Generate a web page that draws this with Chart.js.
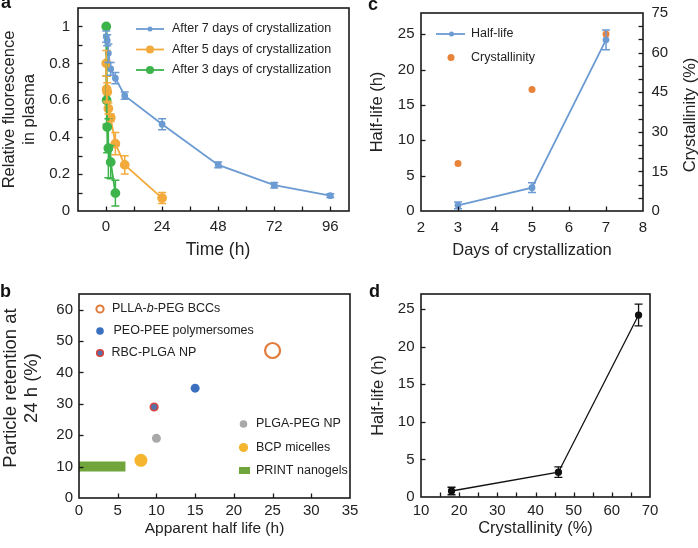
<!DOCTYPE html>
<html lang="en">
<head>
<meta charset="UTF-8">
<title>Crystallization and blood circulation</title>
<script src="https://cdn.jsdelivr.net/npm/chart.js"></script>
<style>
  body { margin: 0; background: #fff; font-family: "Liberation Sans", Arial, sans-serif; }
  #page { position: relative; width: 698px; height: 548px; overflow: hidden; background: #fff; }
  .panel { position: absolute; }
  .panel canvas { display: block; }
  .tag { position: absolute; font-weight: bold; font-size: 18px; line-height: 18px; color: #111; }
</style>
</head>
<body>
<div id="page">
  <div class="panel" style="left:0;top:0"><canvas id="chartA" width="355" height="270"></canvas></div>
  <div class="panel" style="left:355px;top:0"><canvas id="chartC" width="343" height="270"></canvas></div>
  <div class="panel" style="left:0;top:275px"><canvas id="chartB" width="365" height="273"></canvas></div>
  <div class="panel" style="left:360px;top:275px"><canvas id="chartD" width="338" height="273"></canvas></div>
  <div class="tag" style="left:1px;top:-7px">a</div>
  <div class="tag" style="left:368px;top:-5px">c</div>
  <div class="tag" style="left:0px;top:282px">b</div>
  <div class="tag" style="left:369px;top:282px">d</div>
</div>
<script>
// ---- panel a : relative fluorescence in plasma vs time ----
const seriesA = ['After 7 days of crystallization', 'After 5 days of crystallization', 'After 3 days of crystallization'];
const time7 = [0.083, 0.5, 1, 2, 4, 8, 24, 48, 72, 96];
const fluo7 = [0.945, 0.925, 0.855, 0.77, 0.72, 0.625, 0.47, 0.25, 0.14, 0.083];
const err7  = [0.03, 0.03, 0.05, 0.035, 0.03, 0.02, 0.03, 0.015, 0.015, 0.01];
const time5 = [0.083, 0.25, 0.5, 1, 2, 4, 8, 24];
const fluo5 = [0.8, 0.66, 0.645, 0.555, 0.505, 0.365, 0.25, 0.07];
const err5  = [0.07, 0.07, 0.05, 0.03, 0.02, 0.06, 0.05, 0.03];
const time3 = [0.083, 0.25, 0.5, 1, 2, 4];
const fluo3 = [1.0, 0.6, 0.455, 0.34, 0.265, 0.097];
const err3  = [0, 0.13, 0.14, 0.16, 0.09, 0.07];

// ---- panel b : particle retention vs apparent half life ----
const seriesB = ['PLLA-b-PEG BCCs', 'PEO-PEE polymersomes', 'RBC-PLGA NP', 'PLGA-PEG NP', 'BCP micelles', 'PRINT nanogels'];
const halfLifeB = [25, 15, 9.7, 10, 8];
const retentionB = [47, 35, 29, 19, 12];
const printRange = [0, 6];
const printRetention = 10;

// ---- panel c : half-life and crystallinity vs days ----
const seriesC = ['Half-life', 'Crystallinity'];
const days = [3, 5, 7];
const halfLife = [0.8, 3.3, 24.2];
const halfLifeErr = [0.47, 0.7, 1.4];
const crystallinity = [18, 46, 67];

// ---- panel d : half-life vs crystallinity ----
const crystD = [18, 46, 67];
const halfD = [0.8, 3.3, 24.2];
const errD = [0.5, 0.7, 1.45];

const FONT = '"Liberation Sans", Arial, sans-serif';
const INK = '#222';
Chart.defaults.font.family = FONT;
Chart.defaults.color = INK;
Chart.defaults.animation = false;

const BLUE = '#6b9bd2', ORANGE = '#f3aa3c', GREEN = '#3cb44b';

const pts = (xs, ys) => xs.map((x, i) => ({ x: x, y: ys[i] }));

// frame around the plot and short inward ticks
const frameTicks = {
  id: 'frameTicks',
  afterDraw(chart) {
    const { ctx, chartArea: a } = chart;
    ctx.save();
    ctx.strokeStyle = '#1a1a1a';
    ctx.lineWidth = 1.6;
    ctx.strokeRect(a.left, a.top, a.right - a.left, a.bottom - a.top);
    ctx.lineWidth = 1.3;
    const len = 4.5;
    Object.values(chart.scales).forEach(s => {
      s.ticks.forEach(t => {
        if (t.value <= s.min + 1e-9 || t.value >= s.max - 1e-9) return;
        const p = Math.round(s.getPixelForValue(t.value)) + 0.5;
        ctx.beginPath();
        if (s.position === 'bottom') { ctx.moveTo(p, a.bottom); ctx.lineTo(p, a.bottom - len); }
        else if (s.position === 'left') { ctx.moveTo(a.left, p); ctx.lineTo(a.left + len, p); }
        else { ctx.moveTo(a.right, p); ctx.lineTo(a.right - len, p); }
        ctx.stroke();
      });
    });
    ctx.restore();
  }
};

// vertical error bars from dataset.errors
const errorBars = {
  id: 'errorBars',
  afterDatasetsDraw(chart) {
    const ctx = chart.ctx;
    chart.data.datasets.forEach((ds, i) => {
      if (!ds.errors) return;
      const meta = chart.getDatasetMeta(i);
      const ys = chart.scales[meta.yAxisID];
      const cap = ds.capWidth || 4;
      ctx.save();
      ctx.strokeStyle = ds.borderColor;
      ctx.lineWidth = ds.errWidth || 1.5;
      meta.data.forEach((pt, j) => {
        const e = ds.errors[j];
        if (!e) return;
        const v = ds.data[j].y;
        const top = ys.getPixelForValue(v + e), bot = ys.getPixelForValue(v - e);
        ctx.beginPath();
        ctx.moveTo(pt.x, top); ctx.lineTo(pt.x, bot);
        ctx.moveTo(pt.x - cap, top); ctx.lineTo(pt.x + cap, top);
        ctx.moveTo(pt.x - cap, bot); ctx.lineTo(pt.x + cap, bot);
        ctx.stroke();
      });
      ctx.restore();
    });
  }
};

// hand-placed legend entries and a few axis titles
const markerLegend = {
  id: 'markerLegend',
  afterDraw(chart, args, opts) {
    const ctx = chart.ctx;
    ctx.save();
    (opts.items || []).forEach(it => {
      if (it.line) {
        ctx.strokeStyle = it.color; ctx.lineWidth = 1.8;
        ctx.beginPath(); ctx.moveTo(it.line[0], it.y); ctx.lineTo(it.line[1], it.y); ctx.stroke();
      }
      if (it.rect) {
        ctx.fillStyle = it.color;
        ctx.fillRect(it.x - it.rect[0] / 2, it.y - it.rect[1] / 2, it.rect[0], it.rect[1]);
      }
      if (it.r) {
        ctx.beginPath(); ctx.arc(it.x, it.y, it.r, 0, 2 * Math.PI);
        if (it.color) { ctx.fillStyle = it.color; ctx.fill(); }
        if (it.stroke) { ctx.strokeStyle = it.stroke; ctx.lineWidth = it.strokeWidth || 1.5; ctx.stroke(); }
      }
      let tx = it.textX;
      ctx.fillStyle = INK;
      ctx.textBaseline = 'middle';
      it.parts.forEach(p => {
        ctx.font = (p.italic ? 'italic ' : '') + '12.5px ' + FONT;
        ctx.fillText(p.t, tx, it.y);
        tx += ctx.measureText(p.t).width;
      });
    });
    (opts.titles || []).forEach(t => {
      ctx.save();
      ctx.translate(t.x, t.y);
      if (t.vertical) ctx.rotate(-Math.PI / 2);
      ctx.font = t.size + 'px ' + FONT;
      ctx.fillStyle = INK;
      ctx.textAlign = 'center';
      ctx.textBaseline = 'middle';
      ctx.fillText(t.text, 0, 0);
      ctx.restore();
    });
    ctx.restore();
  }
};

Chart.register(frameTicks, errorBars, markerLegend);

function linAxis(o) {
  return {
    type: 'linear',
    position: o.position,
    min: o.min, max: o.max,
    grid: { display: false, drawTicks: false },
    border: { display: false },
    afterFit: s => {
      if (s.isHorizontal()) s.height = o.size; else s.width = o.size;
      s.paddingTop = 0; s.paddingBottom = 0; s.paddingLeft = 0; s.paddingRight = 0;
    },
    ticks: {
      stepSize: o.step, autoSkip: false, maxRotation: 0, padding: o.pad,
      font: { size: 15 }, color: INK,
      includeBounds: false,
      callback: o.label
    },
    title: o.title ? {
      display: true, text: o.title, color: INK,
      font: { size: o.titleSize || 16.5, lineHeight: 1.2 },
      padding: o.titlePad
    } : { display: false }
  };
}

function baseOptions(padding, scales, legendItems, titles) {
  return {
    responsive: false,
    animation: false,
    layout: { padding: padding },
    plugins: {
      legend: { display: false },
      tooltip: { enabled: false },
      markerLegend: { items: legendItems, titles: titles || [] }
    },
    scales: scales
  };
}

// ---------- panel a ----------
new Chart(document.getElementById('chartA'), {
  type: 'scatter',
  data: {
    datasets: [
      { label: seriesA[2], data: pts(time3, fluo3), errors: err3, showLine: true, order: 0,
        borderColor: GREEN, backgroundColor: GREEN, borderWidth: 1.8, pointRadius: 4 },
      { label: seriesA[1], data: pts(time5, fluo5), errors: err5, showLine: true, order: 1,
        borderColor: ORANGE, backgroundColor: ORANGE, borderWidth: 1.8, pointRadius: 4 },
      { label: seriesA[0], data: pts(time7, fluo7), errors: err7, showLine: true, order: 2,
        borderColor: BLUE, backgroundColor: BLUE, borderWidth: 1.8, pointRadius: 2.5 }
    ]
  },
  options: baseOptions({ top: 8, right: 6, left: 0, bottom: 0 }, {
    x: linAxis({ position: 'bottom', min: -12, max: 104, step: 12, pad: 7, size: 59,
      label: v => (v >= 0 && v % 24 === 0) ? String(v) : '' }),
    y: linAxis({ position: 'left', min: 0, max: 1.1, step: 0.1, pad: 8, size: 78,
      label: v => { const k = Math.round(v * 10); return (k % 2 === 0 && k <= 10) ? String(k / 10) : ''; },
      title: ['Relative fluorescence', 'in plasma'], titlePad: { top: 0, bottom: 0 } })
  }, [
    { line: [136, 164], x: 150, y: 29, r: 2.5, color: BLUE, textX: 172, parts: [{ t: seriesA[0] }] },
    { line: [136, 164], x: 150, y: 49.5, r: 4, color: ORANGE, textX: 172, parts: [{ t: seriesA[1] }] },
    { line: [136, 164], x: 150, y: 70, r: 4, color: GREEN, textX: 172, parts: [{ t: seriesA[2] }] }
  ], [
    { text: 'Time (h)', x: 218, y: 250, size: 17.5 }
  ])
});

// ---------- panel c ----------
new Chart(document.getElementById('chartC'), {
  type: 'scatter',
  data: {
    datasets: [
      { label: seriesC[1], data: pts(days, crystallinity), yAxisID: 'y2', order: 0,
        borderColor: '#e8833a', backgroundColor: '#e8833a', pointRadius: 3.5, borderWidth: 0 },
      { label: seriesC[0], data: pts(days, halfLife), errors: halfLifeErr, yAxisID: 'y', showLine: true, order: 1,
        borderColor: BLUE, backgroundColor: BLUE, borderWidth: 1.8, pointRadius: 2.5 }
    ]
  },
  options: baseOptions({ top: 13, right: 0, left: 0, bottom: 0 }, {
    x: linAxis({ position: 'bottom', min: 2, max: 8, step: 1, pad: 8, size: 59,
      label: v => String(v), title: 'Days of crystallization', titlePad: { top: 0, bottom: 10 } }),
    y: linAxis({ position: 'left', min: 0, max: 28, step: 5, pad: 6.5, size: 66,
      label: v => (v % 5 === 0) ? String(v) : '', title: 'Half-life (h)', titlePad: { top: 13, bottom: 0 } }),
    y2: linAxis({ position: 'right', min: 0, max: 75, step: 5, pad: 8.5, size: 55,
      label: v => (v % 15 === 0) ? String(v) : '' })
  }, [
    { line: [81, 110], x: 96.5, y: 34, r: 2.5, color: BLUE, textX: 116, parts: [{ t: seriesC[0] }] },
    { x: 96, y: 57.5, r: 3.5, color: '#e8833a', textX: 116, parts: [{ t: seriesC[1] }] }
  ], [
    { text: 'Crystallinity (%)', x: 335, y: 115, size: 16.5, vertical: true }
  ])
});

// ---------- panel b ----------
const ringColor = '#e07b3c', peoColor = '#3b6fc0', rbcFill = '#5570a8', rbcEdge = '#d9453f',
      plgaColor = '#a8a8a8', bcpColor = '#f5b52e', printColor = '#6fa53a';
new Chart(document.getElementById('chartB'), {
  type: 'scatter',
  data: {
    datasets: [
      { label: seriesB[0], data: [{ x: halfLifeB[0], y: retentionB[0] }], pointRadius: 7.5,
        pointBorderWidth: 2.2, borderColor: ringColor, backgroundColor: 'rgba(255,255,255,0)' },
      { label: seriesB[1], data: [{ x: halfLifeB[1], y: retentionB[1] }], pointRadius: 4.5,
        borderWidth: 0, borderColor: peoColor, backgroundColor: peoColor },
      { label: seriesB[2], data: [{ x: halfLifeB[2], y: retentionB[2] }], pointRadius: 3.8,
        pointBorderWidth: 1.6, borderColor: rbcEdge, backgroundColor: rbcFill },
      { label: seriesB[3], data: [{ x: halfLifeB[3], y: retentionB[3] }], pointRadius: 4.5,
        borderWidth: 0, borderColor: plgaColor, backgroundColor: plgaColor },
      { label: seriesB[4], data: [{ x: halfLifeB[4], y: retentionB[4] }], pointRadius: 6.5,
        borderWidth: 0, borderColor: bcpColor, backgroundColor: bcpColor },
      { label: seriesB[5], data: [{ x: printRange[0], y: printRetention }, { x: printRange[1], y: printRetention }],
        showLine: true, borderWidth: 10, borderCapStyle: 'butt', pointRadius: 0,
        borderColor: printColor, backgroundColor: printColor }
    ]
  },
  options: baseOptions({ top: 19, right: 15, left: 0, bottom: 0 }, {
    x: linAxis({ position: 'bottom', min: 0, max: 35, step: 5, pad: 4, size: 50,
      label: v => String(v), title: 'Apparent half life (h)', titleSize: 15.5, titlePad: { top: 0, bottom: 10 } }),
    y: linAxis({ position: 'left', min: 0, max: 65, step: 10, pad: 6, size: 79,
      label: v => (v % 10 === 0) ? String(v) : '' })
  }, [
    { x: 100, y: 34, r: 3.6, stroke: ringColor, strokeWidth: 2, textX: 112,
      parts: [{ t: 'PLLA-' }, { t: 'b', italic: true }, { t: '-PEG BCCs' }] },
    { x: 100, y: 56, r: 3.8, color: peoColor, textX: 113.5, parts: [{ t: seriesB[1] }] },
    { x: 100, y: 78, r: 3.3, color: rbcFill, stroke: rbcEdge, strokeWidth: 1.6, textX: 111.5, parts: [{ t: seriesB[2] }] },
    { x: 243.5, y: 149, r: 3.8, color: plgaColor, textX: 256, parts: [{ t: seriesB[3] }] },
    { x: 243.5, y: 172.5, r: 4.6, color: bcpColor, textX: 256, parts: [{ t: seriesB[4] }] },
    { x: 244.5, y: 195.5, rect: [11, 7], color: printColor, textX: 256, parts: [{ t: seriesB[5] }] }
  ], [
    { text: 'Particle retention at', x: 10.5, y: 113, size: 18.5, vertical: true },
    { text: '24 h (%)', x: 32, y: 113, size: 18.5, vertical: true }
  ])
});

// ---------- panel d ----------
new Chart(document.getElementById('chartD'), {
  type: 'scatter',
  data: {
    datasets: [
      { label: 'Half-life', data: pts(crystD, halfD), errors: errD, showLine: true, errWidth: 1.3,
        borderColor: '#111', backgroundColor: '#111', borderWidth: 1.3, pointRadius: 3 }
    ]
  },
  options: baseOptions({ top: 19, right: 48, left: 0, bottom: 0 }, {
    x: linAxis({ position: 'bottom', min: 10, max: 70, step: 5, pad: 4.5, size: 51,
      label: v => (v % 10 === 0) ? String(v) : '', title: 'Crystallinity (%)', titlePad: { top: 0, bottom: 10 } }),
    y: linAxis({ position: 'left', min: 0, max: 27, step: 5, pad: 6.5, size: 61,
      label: v => (v % 5 === 0) ? String(v) : '', title: 'Half-life (h)', titlePad: { top: 8.5, bottom: 0 } })
  }, [])
});
</script>
</body>
</html>
